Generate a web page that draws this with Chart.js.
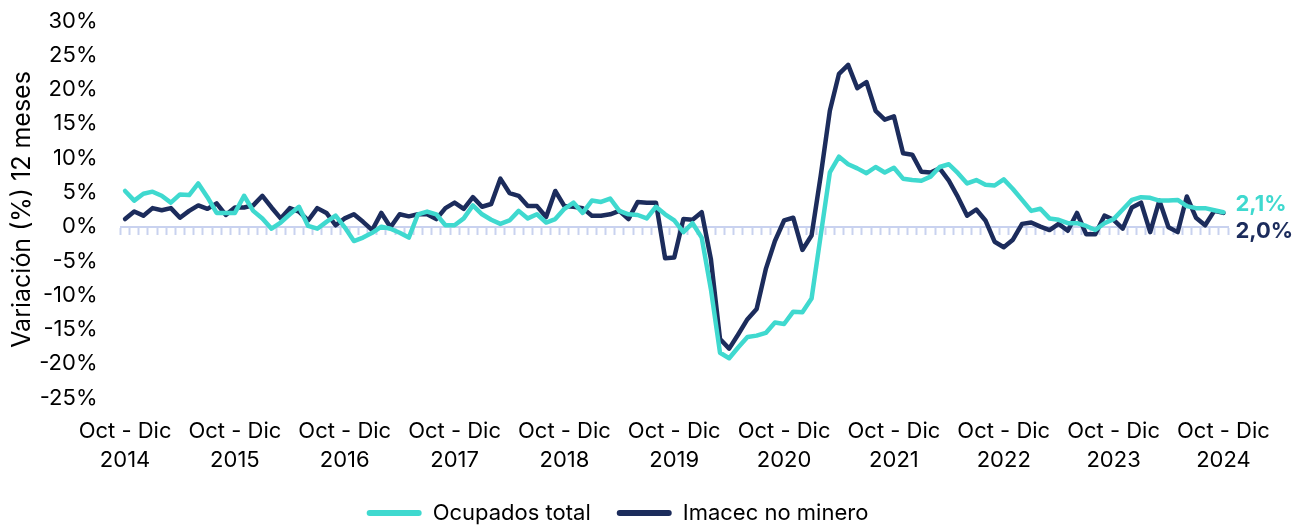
<!DOCTYPE html>
<html>
<head>
<meta charset="utf-8">
<script src="https://cdn.jsdelivr.net/npm/chart.js@4.4.1/dist/chart.umd.min.js"></script>
<style>
  html, body { margin:0; padding:0; background:#fff; }
  #wrap { width:1300px; height:525px; }
</style>
</head>
<body>
<div id="wrap"><canvas id="grafico"></canvas></div>
<script>
// trimestres moviles, desde Oct-Dic 2014 hasta Oct-Dic 2024
const meses = ['Ene','Feb','Mar','Abr','May','Jun','Jul','Ago','Sep','Oct','Nov','Dic']
const anios = [2014,2015,2016,2017,2018,2019,2020,2021,2022,2023,2024]

const periodos = []
for (let i = 0; i <= 120; i++) {
    const fin = 11 + i
    periodos.push(meses[(fin + 10) % 12] + ' - ' + meses[fin % 12] + ' ' + (2014 + Math.floor(fin / 12)))
}

// variacion 12 meses (%)
const ocupados = [
    5.2, 3.8, 4.8, 5.1, 4.5, 3.5, 4.7, 4.6, 6.3, 4.3, 2.0, 2.0,
    2.0, 4.5, 2.3, 1.2, -0.3, 0.6, 1.8, 2.9, 0.1, -0.3, 0.7, 1.6,
    -0.1, -2.1, -1.6, -0.9, 0.0, -0.3, -0.9, -1.6, 1.8, 2.2, 1.8, 0.2,
    0.2, 1.2, 3.1, 1.8, 1.0, 0.4, 0.9, 2.3, 1.2, 1.8, 0.6, 1.1,
    2.6, 3.5, 2.0, 3.8, 3.6, 4.1, 2.3, 1.8, 1.7, 1.2, 2.9, 1.8,
    0.9, -0.8, 0.5, -1.6, -9.1, -18.4, -19.2, -17.6, -16.1, -15.9, -15.5, -14.0,
    -14.2, -12.4, -12.5, -10.5, -1.3, 7.9, 10.2, 9.1, 8.5, 7.8, 8.7, 7.9,
    8.6, 7.0, 6.8, 6.7, 7.3, 8.7, 9.1, 7.8, 6.3, 6.8, 6.1, 6.0,
    6.9, 5.5, 3.9, 2.3, 2.6, 1.2, 1.0, 0.5, 0.5, 0.1, -0.5, 0.5,
    1.1, 2.5, 3.9, 4.3, 4.2, 3.8, 3.8, 3.9, 3.0, 2.7, 2.7, 2.4,
    2.1
]
const imacec = [
    1.1, 2.2, 1.6, 2.7, 2.4, 2.7, 1.3, 2.3, 3.1, 2.6, 3.4, 1.7,
    2.8, 2.8, 3.1, 4.5, 2.8, 1.2, 2.7, 2.2, 0.9, 2.7, 2.0, 0.2,
    1.2, 1.8, 0.7, -0.5, 2.0, -0.1, 1.8, 1.5, 1.8, 1.8, 1.1, 2.7,
    3.5, 2.6, 4.3, 2.9, 3.3, 7.0, 4.9, 4.5, 3.0, 3.0, 1.4, 5.2,
    3.0, 2.9, 2.7, 1.6, 1.6, 1.8, 2.3, 1.1, 3.6, 3.5, 3.5, -4.6,
    -4.5, 1.1, 1.0, 2.1, -4.7, -16.4, -17.8, -15.7, -13.5, -12.0, -6.2, -2.1,
    0.9, 1.3, -3.4, -1.3, 7.4, 16.9, 22.3, 23.6, 20.2, 21.1, 16.9, 15.6,
    16.1, 10.7, 10.5, 8.0, 7.9, 8.5, 6.7, 4.3, 1.6, 2.5, 0.9, -2.2,
    -3.0, -1.9, 0.4, 0.6, 0.0, -0.5, 0.4, -0.6, 2.0, -1.1, -1.1, 1.6,
    1.0, -0.3, 2.8, 3.5, -0.8, 3.8, -0.1, -0.8, 4.4, 1.3, 0.2, 2.3,
    2.0
]

const turquesa = '#3fd9cf'
const azul = '#1c2c5c'
const ejeCero = '#c9d2ef'
const fuente = 'Inter'

// etiqueta con el ultimo valor al final de cada serie
const desplazamiento = [-8, 18]
const etiquetasFinales = {
    id:'etiquetasFinales',
    afterDatasetsDraw(chart) {
        const ctx = chart.ctx
        chart.data.datasets.forEach((ds, i) => {
            const pts = chart.getDatasetMeta(i).data
            const p = pts[pts.length - 1]
            const v = ds.data[ds.data.length - 1]
            ctx.save()
            ctx.font = 'bold 22px ' + fuente
            ctx.fillStyle = ds.borderColor
            ctx.textBaseline = 'middle'
            ctx.fillText(v.toFixed(1).replace('.', ',') + '%', p.x + 12, p.y + desplazamiento[i])
            ctx.restore()
        })
    }
}

const ctx = document.getElementById('grafico').getContext('2d')
new Chart(ctx, {
    type:'line',
    data:{
        labels:periodos,
        datasets:[
            { label:'Ocupados total', data:ocupados, borderColor:turquesa, backgroundColor:turquesa,
              borderWidth:4.5, pointRadius:0, tension:0, borderJoinStyle:'round', borderCapStyle:'round' },
            { label:'Imacec no minero', data:imacec, borderColor:azul, backgroundColor:azul,
              borderWidth:4.5, pointRadius:0, tension:0, borderJoinStyle:'round', borderCapStyle:'round' }
        ]
    },
    options:{
        responsive:true,
        maintainAspectRatio:false,
        animation:false,
        layout:{ padding:{ top:0, right:72, left:7, bottom:0 }},
        plugins:{
            legend:{
                position:'bottom',
                maxHeight:49,
                labels:{
                    boxWidth:55,
                    boxHeight:6,
                    useBorderRadius:true,
                    borderRadius:3,
                    padding:26,
                    color:'#000',
                    font:{ family:fuente, size:22 },
                    generateLabels:chart => chart.data.datasets.map((d, i) => ({
                        text:d.label, fillStyle:d.borderColor, strokeStyle:d.borderColor,
                        lineWidth:0, datasetIndex:i, fontColor:'#000', borderRadius:3
                    }))
                }
            },
            tooltip:{ enabled:false }
        },
        scales:{
            x:{
                offset:true,
                grid:{ display:false, drawTicks:false },
                border:{ display:false },
                afterFit:s => { s.height = 78 },
                ticks:{
                    autoSkip:false, maxRotation:0, padding:19, color:'#000',
                    font:{ family:fuente, size:22, lineHeight:1.32 },
                    callback:(v, i) => i % 12 === 0 ? ['Oct - Dic', String(anios[i / 12])] : ''
                }
            },
            x0:{
                axis:'x',
                type:'category',
                position:{ y:0 },
                offset:true,
                grid:{ offset:true, drawOnChartArea:false, drawTicks:true, tickLength:7, tickWidth:2, color:ejeCero },
                border:{ display:true, color:ejeCero, width:2 },
                ticks:{ display:false }
            },
            y:{
                min:-25, max:30,
                grid:{ display:false, drawTicks:false },
                border:{ display:false },
                afterFit:s => { s.width = 113.5; s.paddingTop = 21 },
                ticks:{ stepSize:5, padding:23, color:'#000', font:{ family:fuente, size:22 }, callback:v => v + '%' },
                title:{ display:true, text:'Variación (%) 12 meses', color:'#000', font:{ family:fuente, size:25 }, padding:{ top:0, bottom:0 } }
            }
        }
    },
    plugins:[etiquetasFinales]
})
</script>
</body>
</html>
